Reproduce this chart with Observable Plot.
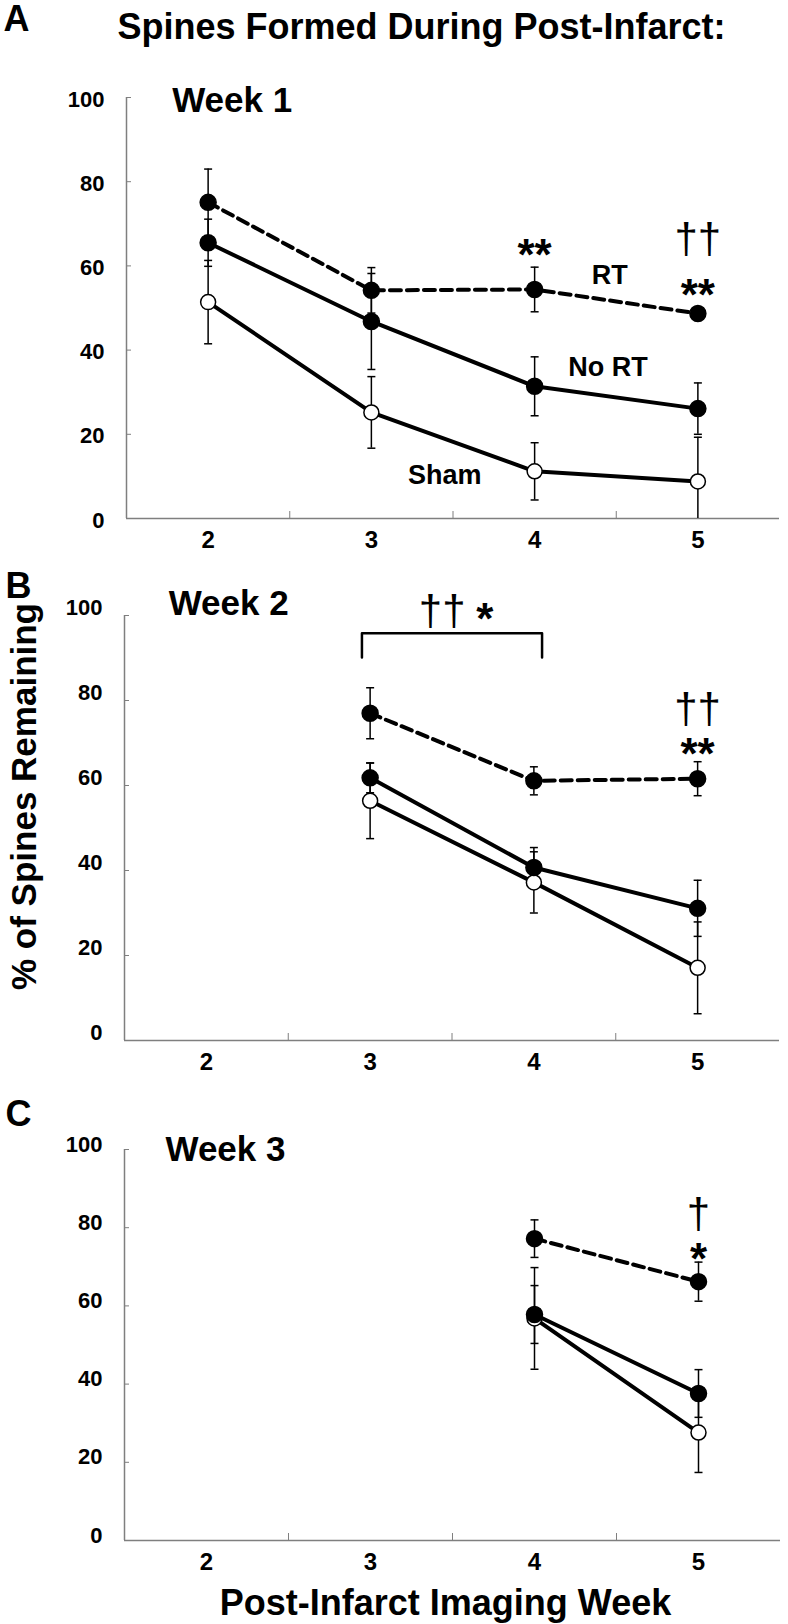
<!DOCTYPE html>
<html><head><meta charset="utf-8">
<script src="https://cdn.jsdelivr.net/npm/d3@7"></script>
<script src="https://cdn.jsdelivr.net/npm/@observablehq/plot@0.6"></script>
<style>
body{margin:0;background:#fff;}
#chart{width:788px;}
#chart svg{display:block;overflow:visible;}
</style></head><body><div id="chart"></div>
<script>
// ---------- data ----------
const weekTicks = [2, 3, 4, 5];
const yTicks = [0, 20, 40, 60, 80, 100];
const groups = ["RT", "No RT", "Sham"];

// Panel A: spines formed during week 1
const aWeeks = [2, 3, 4, 5];
const aRT = [75.1, 54.2, 54.4, 48.7];
const aRTErr = [7.9, 5.4, 5.3, 0];
const aNoRT = [65.5, 46.8, 31.4, 26.1];
const aNoRTErr = [5.6, 11.4, 7.0, 6.1];
const aSham = [51.4, 25.2, 11.2, 8.8];
const aShamErr = [9.9, 8.5, 6.8, 10.5];

// Panel B: spines formed during week 2
const bWeeks = [3, 4, 5];
const bRT = [77.0, 61.1, 61.6];
const bRTErr = [6.0, 3.3, 4.0];
const bNoRT = [61.8, 40.7, 31.1];
const bNoRTErr = [3.5, 4.7, 6.6];
const bSham = [56.4, 37.2, 17.1];
const bShamErr = [8.9, 7.2, 10.8];

// Panel C: spines formed during week 3
const cWeeks = [4, 5];
const cRT = [77.2, 66.2];
const cRTErr = [4.8, 5.0];
const cNoRT = [57.8, 37.6];
const cNoRTErr = [7.4, 6.1];
const cSham = [56.8, 27.6];
const cShamErr = [13.0, 10.2];

// annotations (week, % position)
const aSeriesLabelX = [4.46, 4.45, 3.45];
const aSeriesLabelY = [57.7, 35.9, 10.2];
const aStarX = [4, 5], aStarY = [64.8, 55.3], aStarText = ["**", "**"];
const aDagX = [5], aDagY = [66.3], aDagText = ["††"];
const bStarX = [3.70, 5], bStarY = [101.2, 69.6], bStarText = ["*", "**"];
const bDagX = [3.44, 5], bDagY = [100.9, 77.9], bDagText = ["††", "††"];
const bBracketX = [2.95, 2.95, 4.05, 4.05];
const bBracketY = [90.1, 95.8, 95.8, 90.1];
const cStarX = [5], cStarY = [74.2], cStarText = ["*"];
const cDagX = [5], cDagY = [83.4], cDagText = ["†"];
const panelTitles = ["Week 1", "Week 2", "Week 3"];
const panelTitleX = [1.78, 1.77, 1.75];
const panelTitleY = [99.3, 102.8, 99.9];
const panelLetters = ["A", "B", "C"];
const mainTitle = "Spines Formed During Post-Infarct:";
const yLabel = "% of Spines Remaining";
const xLabel = "Post-Infarct Imaging Week";

// ---------- helpers ----------
const FONT = "'Liberation Sans', Arial, Helvetica, sans-serif";
const AXIS = "#7f7f7f";
function rows(weeks, vals, errs, group) {
  return weeks.map((w, i) => ({week: w, value: vals[i], err: errs[i], group}));
}
const capSymbol = {
  draw(ctx, size) {
    const w = Math.sqrt(size / Math.PI);
    ctx.moveTo(-w, 0); ctx.lineTo(w, 0);
  }
};

function panel(cfg) {
  const all = [...cfg.rt, ...cfg.nort, ...cfg.sham];
  const withErr = all.filter(d => d.err > 0);
  const caps = [];
  withErr.forEach(d => {
    caps.push({week: d.week, y: d.value + d.err});
    if (d.value - d.err >= 0) caps.push({week: d.week, y: d.value - d.err});
  });
  const txt = (xs, ys, ts) => xs.map((x, i) => ({x, y: ys[i], t: ts[i]}));
  const marks = [
    Plot.ruleX([1.5], {stroke: AXIS, strokeWidth: 1.5}),
    Plot.ruleY([0], {stroke: AXIS, strokeWidth: 1.5}),
    Plot.axisY({ticks: yTicks, tickSize: 5, dx: 5, tickFormat: () => "", stroke: AXIS}),
    Plot.axisY({ticks: yTicks, tickSize: 0, tickPadding: 22, fontSize: 22, fontWeight: "bold", dy: cfg.yTickDy, fill: "#000"}),
    Plot.axisX({ticks: [2.5, 3.5, 4.5], tickSize: 7, dy: -7, tickFormat: () => "", stroke: AXIS}),
    Plot.axisX({ticks: weekTicks, tickSize: 0, tickPadding: 12, fontSize: 24, fontWeight: "bold", tickFormat: d => String(d), fill: "#000"}),
    Plot.line(cfg.sham, {x: "week", y: "value", stroke: "#000", strokeWidth: 4}),
    Plot.line(cfg.nort, {x: "week", y: "value", stroke: "#000", strokeWidth: 4}),
    Plot.line(cfg.rt, {x: "week", y: "value", stroke: "#000", strokeWidth: 4, strokeDasharray: "11,6"}),
    Plot.ruleX(withErr, {x: "week", y1: d => Math.max(0, d.value - d.err), y2: d => d.value + d.err, stroke: "#000", strokeWidth: 1.5}),
    Plot.dot(caps, {x: "week", y: "y", symbol: capSymbol, r: 4, stroke: "#000", strokeWidth: 1.5, fill: "none"}),
    Plot.dot(cfg.sham, {x: "week", y: "value", r: 7.5, fill: "#fff", stroke: "#000", strokeWidth: 1.5}),
    Plot.dot(cfg.nort, {x: "week", y: "value", r: 8, fill: "#000", stroke: "#000"}),
    Plot.dot(cfg.rt, {x: "week", y: "value", r: 8, fill: "#000", stroke: "#000"}),
    Plot.text([cfg.title], {x: cfg.titleX, y: cfg.titleY, text: d => d, textAnchor: "start", lineAnchor: "middle", fontSize: 35, fontWeight: "bold", fill: "#000"}),
    Plot.text(txt(cfg.starX, cfg.starY, cfg.starText), {x: "x", y: "y", text: "t", lineAnchor: "middle", fontSize: 44, fontWeight: "bold", dy: 10, fill: "#000"}),
    Plot.text(txt(cfg.dagX, cfg.dagY, cfg.dagText), {x: "x", y: "y", text: "t", lineAnchor: "middle", fontSize: 42, fontWeight: "normal", fill: "#000"}),
    Plot.text([cfg.letter], {frameAnchor: "top-left", text: d => d, textAnchor: "start", lineAnchor: "middle", dx: cfg.letterDx, dy: cfg.letterDy, fontSize: 36, fontWeight: "bold", fill: "#000"})
  ];
  if (cfg.extra) marks.push(...cfg.extra);
  return Plot.plot({
    width: 788,
    height: cfg.height,
    marginTop: cfg.mt, marginBottom: cfg.mb, marginLeft: cfg.ml, marginRight: cfg.mr,
    x: {domain: [1.5, 5.5]},
    y: {domain: [0, 100]},
    style: {fontFamily: FONT, color: "#000", background: "#fff", overflow: "visible"},
    marks
  });
}

const A = panel({
  height: 560, mt: 97, mb: 42, ml: 126, mr: 9, yTickDy: 2,
  rt: rows(aWeeks, aRT, aRTErr, groups[0]),
  nort: rows(aWeeks, aNoRT, aNoRTErr, groups[1]),
  sham: rows(aWeeks, aSham, aShamErr, groups[2]),
  title: panelTitles[0], titleX: panelTitleX[0], titleY: panelTitleY[0],
  starX: aStarX, starY: aStarY, starText: aStarText,
  dagX: aDagX, dagY: aDagY, dagText: aDagText,
  letter: panelLetters[0], letterDx: -123, letterDy: -78,
  extra: [
    Plot.text(groups.map((g, i) => ({g, x: aSeriesLabelX[i], y: aSeriesLabelY[i]})), {x: "x", y: "y", text: "g", lineAnchor: "middle", fontSize: 27, fontWeight: "bold", fill: "#000"}),
    Plot.text([mainTitle], {frameAnchor: "top-left", text: d => d, textAnchor: "start", lineAnchor: "middle", dx: -9, dy: -70, fontSize: 36, fontWeight: "bold", fill: "#000"})
  ]
});

const B = panel({
  height: 520, mt: 55, mb: 40, ml: 124, mr: 9, yTickDy: -8,
  rt: rows(bWeeks, bRT, bRTErr, groups[0]),
  nort: rows(bWeeks, bNoRT, bNoRTErr, groups[1]),
  sham: rows(bWeeks, bSham, bShamErr, groups[2]),
  title: panelTitles[1], titleX: panelTitleX[1], titleY: panelTitleY[1],
  starX: bStarX, starY: bStarY, starText: bStarText,
  dagX: bDagX, dagY: bDagY, dagText: bDagText,
  letter: panelLetters[1], letterDx: -119, letterDy: -29,
  extra: [
    Plot.line(bBracketX.map((x, i) => ({x, y: bBracketY[i]})), {x: "x", y: "y", stroke: "#000", strokeWidth: 2.5}),
    Plot.text([yLabel], {frameAnchor: "top-left", text: d => d, rotate: -90, textAnchor: "middle", lineAnchor: "middle", dx: -100, dy: 181, fontSize: 35, fontWeight: "bold", fill: "#000"})
  ]
});

const C = panel({
  height: 544, mt: 69, mb: 84, ml: 124, mr: 8, yTickDy: -5,
  rt: rows(cWeeks, cRT, cRTErr, groups[0]),
  nort: rows(cWeeks, cNoRT, cNoRTErr, groups[1]),
  sham: rows(cWeeks, cSham, cShamErr, groups[2]),
  title: panelTitles[2], titleX: panelTitleX[2], titleY: panelTitleY[2],
  starX: cStarX, starY: cStarY, starText: cStarText,
  dagX: cDagX, dagY: cDagY, dagText: cDagText,
  letter: panelLetters[2], letterDx: -119, letterDy: -35,
  extra: [
    Plot.text([xLabel], {frameAnchor: "bottom", text: d => d, textAnchor: "middle", lineAnchor: "middle", dx: -7, dy: 63, fontSize: 36, fontWeight: "bold", fill: "#000"})
  ]
});

const root = document.getElementById("chart");
root.append(A, B, C);
</script></body></html>
